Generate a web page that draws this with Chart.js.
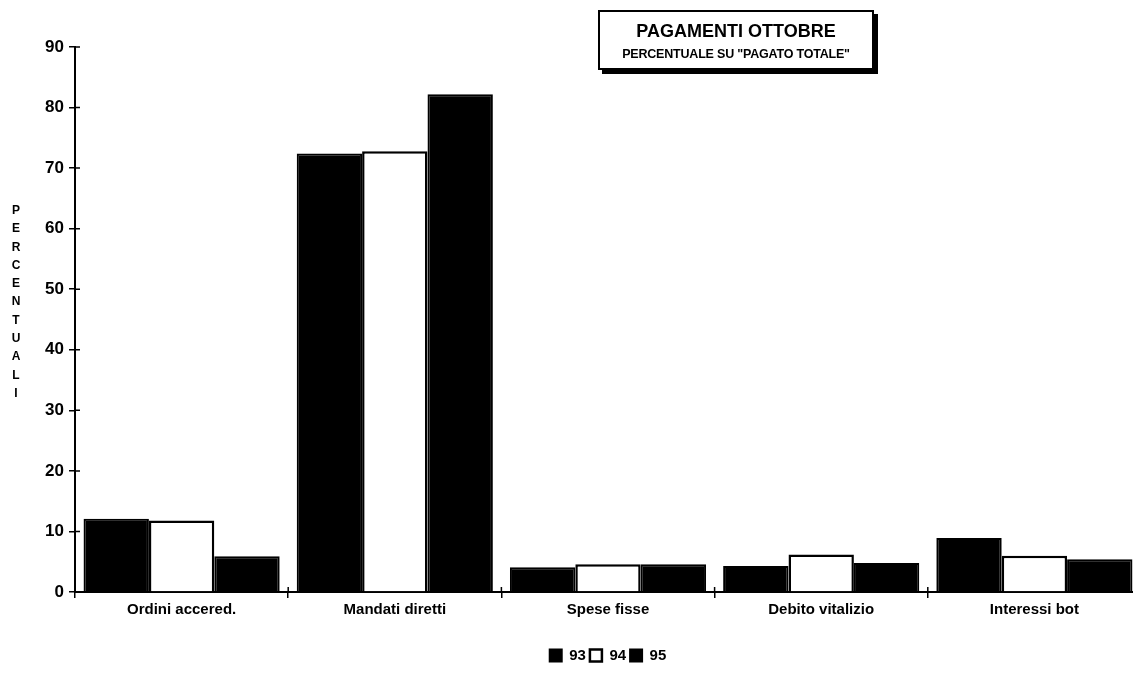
<html>
<head>
    <title>Pagamenti ottobre</title>
    <meta charset="utf-8">
    <style>
        body {
            background-color: #ffffff;
            margin: 0;
            padding: 0;
            overflow: hidden;
            font-family: "Liberation Sans", Arial, sans-serif;
        }
        .wrap {
            position: relative;
            width: 1133px;
            height: 691px;
            overflow: hidden;
        }
        #chart {
            position: absolute;
            left: 0;
            top: 0;
        }
        .title-box {
            position: absolute;
            left: 598px;
            top: 10px;
            width: 272px;
            height: 56px;
            border: 2px solid #000;
            box-shadow: 4px 4px 0 #000;
            background: #fff;
            text-align: center;
            font-weight: bold;
            color: #000;
        }
        .title-box .t1 {
            font-size: 18px;
            margin-top: 9px;
        }
        .title-box .t2 {
            font-size: 12.5px;
            margin-top: 5px;
            letter-spacing: -0.2px;
        }
        .ylabel {
            position: absolute;
            left: 9px;
            top: 201px;
            width: 14px;
            text-align: center;
            font-size: 12px;
            font-weight: bold;
            line-height: 18.3px;
            color: #000;
        }
    </style>
</head>
<body>
    <div class="wrap">
        <canvas id="chart" width="1141" height="691"></canvas>
        <div class="title-box">
            <div class="t1">PAGAMENTI OTTOBRE</div>
            <div class="t2">PERCENTUALE SU "PAGATO TOTALE"</div>
        </div>
        <div class="ylabel" id="ylabel"></div>
    </div>
    <script src="https://cdn.jsdelivr.net/npm/chart.js"></script>
    <script>
        const categories = ['Ordini accered.', 'Mandati diretti', 'Spese fisse', 'Debito vitalizio', 'Interessi bot'];
        const years = ['93', '94', '95'];
        const values93 = [12.1, 72.4, 4.1, 4.3, 8.9];
        const values94 = [11.8, 72.8, 4.6, 6.2, 6.0];
        const values95 = [5.9, 82.2, 4.6, 4.8, 5.4];
        const yTicks = [0, 10, 20, 30, 40, 50, 60, 70, 80, 90];
        const yTitle = 'PERCENTUALI';

        document.getElementById('ylabel').innerHTML = yTitle.split('').join('<br>');

        // small plugin: tick marks crossing the axis lines
        const crossTicks = {
            id: 'crossTicks',
            afterDraw(chart) {
                const ctx = chart.ctx;
                const area = chart.chartArea;
                const y = chart.scales.y;
                const x = chart.scales.x;
                ctx.save();
                ctx.strokeStyle = '#000';
                ctx.lineWidth = 1.5;
                ctx.beginPath();
                y.ticks.forEach((t, i) => {
                    const py = y.getPixelForTick(i);
                    ctx.moveTo(area.left, py);
                    ctx.lineTo(area.left + 5, py);
                });
                for (let i = 1; i < categories.length; i++) {
                    const px = (x.getPixelForTick(i - 1) + x.getPixelForTick(i)) / 2;
                    ctx.moveTo(px, area.bottom);
                    ctx.lineTo(px, area.bottom - 5);
                }
                ctx.stroke();
                ctx.restore();
            }
        };

        const ctx = document.getElementById('chart').getContext('2d');
        new Chart(ctx, {
            type: 'bar',
            data: {
                labels: categories,
                datasets: [
                    {
                        label: years[0],
                        data: values93,
                        backgroundColor: '#000',
                        borderColor: '#000',
                        borderWidth: 2
                    },
                    {
                        label: years[1],
                        data: values94,
                        backgroundColor: '#fff',
                        borderColor: '#000',
                        borderWidth: 2.5
                    },
                    {
                        label: years[2],
                        data: values95,
                        backgroundColor: '#000',
                        borderColor: '#000',
                        borderWidth: 2
                    }
                ]
            },
            options: {
                responsive: false,
                animation: false,
                layout: {
                    padding: { top: 47, left: 0, right: 0, bottom: 18 }
                },
                datasets: {
                    bar: {
                        categoryPercentage: 0.92,
                        barPercentage: 1.0
                    }
                },
                scales: {
                    x: {
                        afterFit(scale) { scale.height = 52; },
                        grid: {
                            display: true,
                            drawOnChartArea: false,
                            color: '#000',
                            tickLength: 6,
                            lineWidth: 1.5
                        },
                        border: { color: '#000', width: 2 },
                        ticks: {
                            color: '#000',
                            padding: 3,
                            font: { family: 'Liberation Sans', size: 15, weight: 'bold' }
                        }
                    },
                    y: {
                        min: 0,
                        max: 90,
                        afterFit(scale) { scale.width = 75; },
                        afterBuildTicks(scale) {
                            scale.ticks = yTicks.map(v => ({ value: v }));
                        },
                        grid: {
                            display: true,
                            drawOnChartArea: false,
                            color: '#000',
                            tickLength: 6,
                            lineWidth: 1.5
                        },
                        border: { color: '#000', width: 2 },
                        ticks: {
                            color: '#000',
                            padding: 5,
                            font: { family: 'Liberation Sans', size: 17, weight: 'bold' }
                        }
                    }
                },
                plugins: {
                    legend: {
                        display: true,
                        position: 'bottom',
                        fullSize: false,
                        labels: {
                            color: '#000',
                            boxWidth: 12,
                            boxHeight: 12,
                            padding: 4,
                            font: { family: 'Liberation Sans', size: 15, weight: 'bold' }
                        }
                    },
                    tooltip: { enabled: false },
                    title: { display: false }
                }
            },
            plugins: [crossTicks]
        });
    </script>
</body>
</html>
